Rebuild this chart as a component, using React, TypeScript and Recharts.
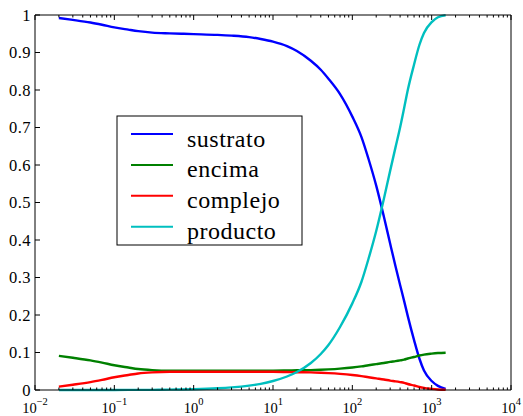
import React from 'react';
import { LineChart, Line, XAxis, YAxis } from 'recharts';

// ---- data ----
const tiempo = [0.02, 0.03, 0.05, 0.07, 0.1, 0.15, 0.2, 0.3, 0.5, 0.7, 1, 2, 3, 5, 7, 10, 15, 20, 30, 40, 50, 70, 100, 130, 160, 200, 250, 300, 350, 400, 450, 500, 600, 700, 800, 1000, 1200, 1500];
const sustrato = [0.992, 0.987, 0.980, 0.974, 0.967, 0.961, 0.957, 0.953, 0.951, 0.950, 0.949, 0.947, 0.945, 0.941, 0.936, 0.929, 0.917, 0.904, 0.878, 0.854, 0.830, 0.789, 0.729, 0.675, 0.616, 0.545, 0.462, 0.390, 0.330, 0.280, 0.237, 0.197, 0.133, 0.084, 0.052, 0.024, 0.011, 0.003];
const encima = [0.091, 0.086, 0.079, 0.073, 0.066, 0.060, 0.056, 0.053, 0.0515, 0.0515, 0.0515, 0.0515, 0.0515, 0.0515, 0.0515, 0.0515, 0.052, 0.0525, 0.053, 0.054, 0.055, 0.057, 0.060, 0.063, 0.066, 0.069, 0.072, 0.075, 0.077, 0.079, 0.081, 0.084, 0.088, 0.092, 0.0945, 0.097, 0.0985, 0.0995];
const complejo = [0.009, 0.014, 0.021, 0.027, 0.034, 0.040, 0.044, 0.047, 0.0485, 0.0485, 0.0485, 0.0485, 0.0485, 0.0485, 0.0485, 0.0485, 0.048, 0.0475, 0.047, 0.046, 0.045, 0.043, 0.040, 0.037, 0.034, 0.031, 0.028, 0.025, 0.023, 0.021, 0.019, 0.016, 0.012, 0.008, 0.0055, 0.003, 0.0015, 0.0005];
const producto = [0, 0, 0.0001, 0.0001, 0.0001, 0.0002, 0.0003, 0.0004, 0.0009, 0.0014, 0.0021, 0.0045, 0.0069, 0.0117, 0.0165, 0.024, 0.036, 0.048, 0.072, 0.096, 0.12, 0.168, 0.231, 0.288, 0.35, 0.424, 0.51, 0.585, 0.647, 0.70, 0.752, 0.80, 0.868, 0.92, 0.952, 0.981, 0.994, 0.9995];

const seriesKeys = ['sustrato', 'encima', 'complejo', 'producto'];
const seriesColors = ['#0000ff', '#008000', '#ff0000', '#00bfbf'];

const xDecades = [-2, -1, 0, 1, 2, 3, 4];
const xMinorMultipliers = [2, 3, 4, 5, 6, 7, 8, 9];
const yTicks = [0, 0.1, 0.2, 0.3, 0.4, 0.5, 0.6, 0.7, 0.8, 0.9, 1];
const yTickLabels = ['0', '0.1', '0.2', '0.3', '0.4', '0.5', '0.6', '0.7', '0.8', '0.9', '1'];

const data = tiempo.map((t, i) => ({
  t,
  sustrato: sustrato[i],
  encima: encima[i],
  complejo: complejo[i],
  producto: producto[i],
}));

const majorTicks = xDecades.map((d) => Math.pow(10, d));
const minorTicks = xDecades.slice(0, -1).flatMap((d) => xMinorMultipliers.map((m) => m * Math.pow(10, d)));
const xTicks = [...majorTicks, ...minorTicks].sort((a, b) => a - b);

const FONT = "'Liberation Serif', 'Times New Roman', Times, serif";

function isMajor(v: number) {
  const l = Math.log10(v);
  return Math.abs(l - Math.round(l)) < 1e-6;
}

function BottomTick(props: any) {
  const { x, y, payload } = props;
  const v = payload.value;
  const major = isMajor(v);
  const e = Math.round(Math.log10(v));
  return (
    <g>
      <line x1={x} x2={x} y1={y} y2={y - (major ? 5 : 2.5)} stroke="#000" strokeWidth={1} />
      {major && (
        <text x={x} y={y + 23} textAnchor="middle" fontFamily={FONT} fontSize={14.5} fill="#000">
          10
          <tspan dy={-8} fontSize={10.5}>{e < 0 ? '\u2212' + -e : String(e)}</tspan>
        </text>
      )}
    </g>
  );
}

function TopTick(props: any) {
  const { x, y, payload } = props;
  const major = isMajor(payload.value);
  return <line x1={x} x2={x} y1={y} y2={y + (major ? 5 : 2.5)} stroke="#000" strokeWidth={1} />;
}

function LeftTick(props: any) {
  const { x, y, payload } = props;
  const idx = yTicks.indexOf(payload.value);
  return (
    <g>
      <line x1={x} x2={x + 5} y1={y} y2={y} stroke="#000" strokeWidth={1} />
      <text x={x - 4} y={y} dy="0.35em" textAnchor="end" fontFamily={FONT} fontSize={16.5} letterSpacing={0.5} fill="#000">
        {idx >= 0 ? yTickLabels[idx] : String(payload.value)}
      </text>
    </g>
  );
}

function RightTick(props: any) {
  const { x, y } = props;
  return <line x1={x} x2={x - 5} y1={y} y2={y} stroke="#000" strokeWidth={1} />;
}

function LegendBox() {
  return (
    <svg width={187} height={131} style={{ position: 'absolute', left: 115.5, top: 114.5, overflow: 'visible' }}>
      <rect x={1} y={1} width={185} height={129} fill="#fff" stroke="#000" strokeWidth={1} />
      {seriesKeys.map((k, i) => {
        const cy = 19 + i * 30.9;
        return (
          <g key={k}>
            <line x1={15} x2={57} y1={cy} y2={cy} stroke={seriesColors[i]} strokeWidth={2} />
            <text x={71} y={cy + 12.5} fontFamily={FONT} fontSize={24} letterSpacing={0.5} fill="#000">
              {k}
            </text>
          </g>
        );
      })}
    </svg>
  );
}

export default function App() {
  return (
    <div style={{ position: 'absolute', left: 0, top: 0, width: 523, height: 416, background: '#fff' }}>
      <LineChart width={523} height={416} data={data} margin={{ top: 14, right: 0, bottom: 0, left: 0 }}>
        <XAxis
          dataKey="t"
          type="number"
          scale="log"
          domain={[0.01, 10000]}
          allowDataOverflow
          ticks={xTicks}
          interval={0}
          tickSize={0}
          tickMargin={0}
          height={26}
          axisLine={{ stroke: '#000', strokeWidth: 1 }}
          tickLine={false}
          tick={<BottomTick />}
        />
        <XAxis
          xAxisId="top"
          orientation="top"
          dataKey="t"
          type="number"
          scale="log"
          domain={[0.01, 10000]}
          allowDataOverflow
          ticks={xTicks}
          interval={0}
          tickSize={0}
          tickMargin={0}
          height={1}
          axisLine={{ stroke: '#000', strokeWidth: 1 }}
          tickLine={false}
          tick={<TopTick />}
        />
        <YAxis
          type="number"
          domain={[0, 1]}
          ticks={yTicks}
          interval={0}
          tickSize={0}
          tickMargin={0}
          width={35}
          axisLine={{ stroke: '#000', strokeWidth: 1 }}
          tickLine={false}
          tick={<LeftTick />}
        />
        <YAxis
          yAxisId="r"
          orientation="right"
          type="number"
          domain={[0, 1]}
          ticks={yTicks}
          interval={0}
          tickSize={0}
          tickMargin={0}
          width={12}
          axisLine={{ stroke: '#000', strokeWidth: 1 }}
          tickLine={false}
          tick={<RightTick />}
        />
        {seriesKeys.map((k, i) => (
          <Line
            key={k}
            dataKey={k}
            name={k}
            type="monotone"
            stroke={seriesColors[i]}
            strokeWidth={2.4}
            dot={false}
            activeDot={false}
            isAnimationActive={false}
          />
        ))}
      </LineChart>
      <LegendBox />
    </div>
  );
}
